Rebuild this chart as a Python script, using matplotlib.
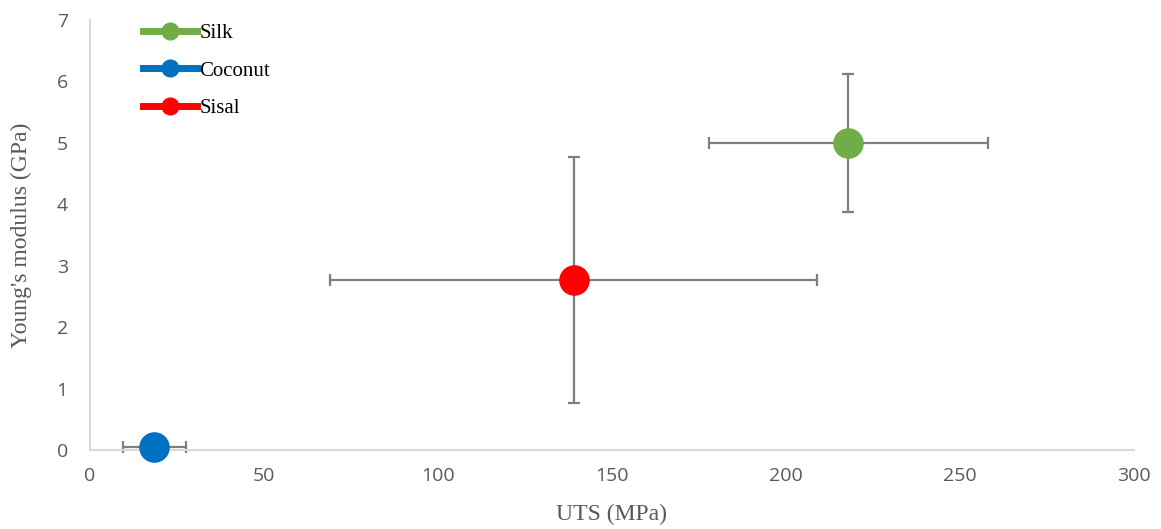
import matplotlib
matplotlib.use("Agg")
from matplotlib import pyplot as plt
from matplotlib.lines import Line2D

# fibre properties: mean UTS / modulus with standard deviations
fibres = ["Silk", "Coconut", "Sisal"]
uts = [218, 18.5, 139]
uts_err = [40, 9, 70]
modulus = [5.0, 0.05, 2.77]
modulus_err = [1.12, 0.0, 2.0]
colors = ["#70AD47", "#0070C0", "#FF0000"]

x_ticks = [0, 50, 100, 150, 200, 250, 300]
y_ticks = [0, 1, 2, 3, 4, 5, 6, 7]

fig = plt.figure(figsize=(11.61, 5.29), dpi=100)
ax = fig.add_axes([0.0775, 0.1493, 0.899, 0.8129])

for i in range(len(fibres)):
    eb = ax.errorbar(uts[i], modulus[i], xerr=uts_err[i], yerr=modulus_err[i],
                     fmt="none", ecolor="#7F7F7F", elinewidth=1.6, capsize=4,
                     capthick=1.6, zorder=2)
    for art in eb.lines[1] + eb.lines[2]:
        art.set_clip_on(False)
    ax.plot(uts[i], modulus[i], "o", color=colors[i], markersize=21,
            zorder=3, clip_on=False)

ax.set_xlim(0, 300)
ax.set_ylim(0, 7)
ax.set_xticks(x_ticks)
ax.set_yticks(y_ticks)
ax.tick_params(length=0, labelsize=14, labelcolor="#595959", pad=12)
ax.tick_params(axis="y", pad=16)
for lab in ax.get_xticklabels() + ax.get_yticklabels():
    lab.set_family("Open Sans")

for side in ["top", "right"]:
    ax.spines[side].set_visible(False)
for side in ["left", "bottom"]:
    ax.spines[side].set_color("#D9D9D9")
    ax.spines[side].set_linewidth(1.5)

ax.set_xlabel("UTS (MPa)", family="Liberation Serif", fontsize=17,
              color="#595959", labelpad=14)
ax.set_ylabel("Young's modulus (GPa)", family="Liberation Serif",
              fontsize=17, color="#595959", labelpad=18)

handles = [Line2D([0], [0], color=c, lw=5, marker="o", markersize=12)
           for c in colors]
leg = ax.legend(handles, fibres, loc="upper left", frameon=False,
                bbox_to_anchor=(0.033, 1.035), handlelength=2.6,
                handletextpad=0.1, labelspacing=0.85,
                prop={"family": "Liberation Serif", "size": 15})

fig.savefig("out.png", dpi=100)
